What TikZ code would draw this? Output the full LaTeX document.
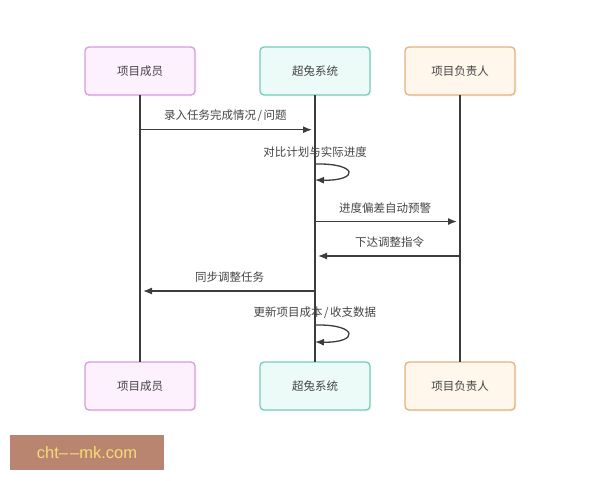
\documentclass[tikz,border=0pt]{standalone}
\usepackage{fontspec}
\setmainfont{Noto Sans CJK SC}
\newfontfamily\markfont{Liberation Sans}
\usetikzlibrary{positioning}
\usetikzlibrary{arrows.meta}
\usetikzlibrary{shadows}
\definecolor{txtgray}{HTML}{444444}
\definecolor{linegray}{HTML}{3C3C3C}
\definecolor{markbrown}{HTML}{B98571}
\definecolor{markyellow}{HTML}{F6DC74}
\definecolor{memline}{HTML}{D59CDC}
\definecolor{memfill}{HTML}{FDF1FE}
\definecolor{sysline}{HTML}{72CDBB}
\definecolor{sysfill}{HTML}{EDFBF8}
\definecolor{leadline}{HTML}{E3B27D}
\definecolor{leadfill}{HTML}{FFF6EC}
\def\slashgap{\kern1.5pt/\kern1.5pt}
\tikzset{
	actor/.style={minimum width=110pt,minimum height=48pt,outer sep=0pt,rounded corners=4pt,line width=1.3pt,text=txtgray,drop shadow={shadow xshift=1.5pt,shadow yshift=-1.5pt,opacity=0.07}},
	member/.style={actor,draw=memline,fill=memfill},
	system/.style={actor,draw=sysline,fill=sysfill},
	leader/.style={actor,draw=leadline,fill=leadfill},
	lifeline/.style={line width=1.5pt,draw=linegray},
	msg/.style={-{Latex[length=9pt,width=7pt]},line width=1.3pt,draw=linegray,shorten >=3pt},
	selfmsg/.style={-{Latex[length=9pt,width=7pt]},line width=1.3pt,draw=linegray},
	msglabel/.style={text=txtgray,inner sep=0pt},
}

\begin{document}
\begin{tikzpicture}[x=1pt,y=1pt,font=\fontsize{11.5pt}{14pt}\selectfont]
	\useasboundingbox (0,0) rectangle (600,-480);

	\node [member] at (140,-71) (mem_top) {项目成员};
	\node [system,right=65pt of mem_top] (sys_top) {超兔系统};
	\node [leader,right=35pt of sys_top] (lead_top) {项目负责人};
	\node [member,below=267pt of mem_top] (mem_bot) {项目成员};
	\node [system,below=267pt of sys_top] (sys_bot) {超兔系统};
	\node [leader,below=267pt of lead_top] (lead_bot) {项目负责人};

	\draw [lifeline] (mem_top.south) -- (mem_bot.north);
	\draw [lifeline] (sys_top.south) -- (sys_bot.north);
	\draw [lifeline] (lead_top.south) -- (lead_bot.north);

	% message rows on the lifelines
	\coordinate (mem_a) at (mem_top |- 0,-129.7);
	\coordinate (sys_a) at (sys_top |- 0,-129.7);
	\coordinate (sys_b1) at (sys_top |- 0,-164);
	\coordinate (sys_b2) at (sys_top |- 0,-180);
	\coordinate (sys_c) at (sys_top |- 0,-221.5);
	\coordinate (lead_c) at (lead_top |- 0,-221.5);
	\coordinate (lead_d) at (lead_top |- 0,-256);
	\coordinate (sys_d) at (sys_top |- 0,-256);
	\coordinate (sys_e) at (sys_top |- 0,-291);
	\coordinate (mem_e) at (mem_top |- 0,-291);
	\coordinate (sys_f1) at (sys_top |- 0,-325);
	\coordinate (sys_f2) at (sys_top |- 0,-342);

	\draw [msg] (mem_a) -- node[midway,above=7.5pt,xshift=-2pt,msglabel] (lab_a) {录入任务完成情况\slashgap 问题} (sys_a);
	\node [msglabel,above=6pt of sys_b1] (lab_b) {对比计划与实际进度};
	\draw [selfmsg] (sys_b1) .. controls +(44,1) and +(44,-1) .. (sys_b2);
	\draw [msg] (sys_c) -- node[midway,above=7.5pt,xshift=-2.5pt,msglabel] (lab_c) {进度偏差自动预警} (lead_c);
	\draw [msg] (lead_d) -- node[midway,above=7.5pt,xshift=2pt,msglabel] (lab_d) {下达调整指令} (sys_d);
	\draw [msg] (sys_e) -- node[midway,above=7.5pt,xshift=2pt,msglabel] (lab_e) {同步调整任务} (mem_e);
	\node [msglabel,above=6pt of sys_f1] (lab_f) {更新项目成本\slashgap 收支数据};
	\draw [selfmsg] (sys_f1) .. controls +(44,1) and +(44,-1) .. (sys_f2);

	\node [minimum width=154pt,minimum height=35pt,outer sep=0pt,fill=markbrown,text=markyellow,font=\markfont\fontsize{16.5pt}{18pt}\selectfont] at (87,-452.5) (mark) {cht–\kern2pt–mk.com};
\end{tikzpicture}
\end{document}
